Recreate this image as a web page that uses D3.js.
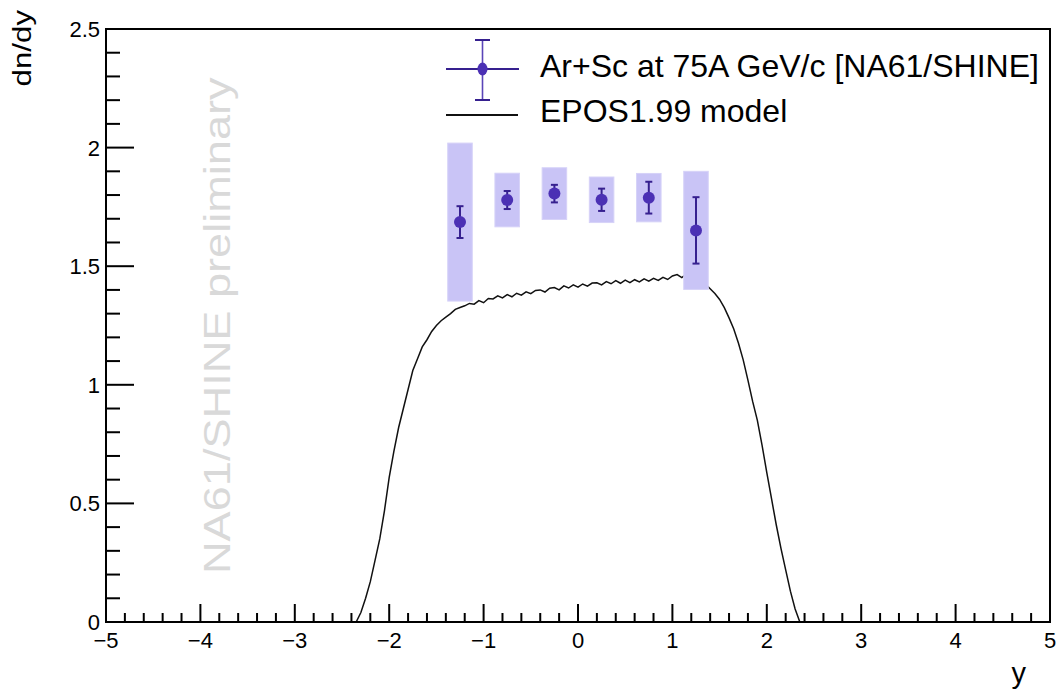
<!DOCTYPE html>
<html>
<head>
<meta charset="utf-8">
<script src="https://cdn.jsdelivr.net/npm/d3@7"></script>
<style>
  html, body { margin: 0; padding: 0; background: #fff; }
  svg { display: block; }
  text { font-family: "Liberation Sans", Arial, Helvetica, sans-serif; }
</style>
</head>
<body>
<svg id="chart" width="1056" height="692"></svg>
<script>
// ---------------- data ----------------
// NA61/SHINE Ar+Sc at 75A GeV/c data points (rapidity bin centres)
const dataY = [-1.25, -0.75, -0.25, 0.25, 0.75, 1.25];
const dataDndy = [1.686, 1.779, 1.806, 1.780, 1.789, 1.651];
const dataStat = [0.067, 0.038, 0.037, 0.047, 0.067, 0.140];
const dataSys = [0.333, 0.113, 0.109, 0.096, 0.102, 0.249];
const sysHalfWidth = 0.13;

// EPOS1.99 model curve
const eposY = [-2.40, -2.35, -2.30, -2.25, -2.20, -2.15, -2.10, -2.05, -2.00, -1.95,
  -1.90, -1.85, -1.80, -1.75, -1.70, -1.65, -1.60, -1.55, -1.50, -1.45,
  -1.40, -1.35, -1.30, -1.25, -1.20, -1.15, -1.10, -1.05, -1.00, -0.95,
  -0.90, -0.85, -0.80, -0.75, -0.70, -0.65, -0.60, -0.55, -0.50, -0.45,
  -0.40, -0.35, -0.30, -0.25, -0.20, -0.15, -0.10, -0.05, 0.00, 0.05,
  0.10, 0.15, 0.20, 0.25, 0.30, 0.35, 0.40, 0.45, 0.50, 0.55,
  0.60, 0.65, 0.70, 0.75, 0.80, 0.85, 0.90, 0.95, 1.00, 1.05,
  1.10, 1.15, 1.20, 1.25, 1.30, 1.35, 1.40, 1.45, 1.50, 1.55,
  1.60, 1.65, 1.70, 1.75, 1.80, 1.85, 1.90, 1.95, 2.00, 2.05,
  2.10, 2.15, 2.20, 2.25, 2.30, 2.35, 2.40];
const eposDndy = [0.0, 0.0, 0.04, 0.10, 0.17, 0.26, 0.35, 0.47, 0.61, 0.72,
  0.82, 0.90, 0.98, 1.06, 1.11, 1.16, 1.19, 1.225, 1.25, 1.27,
  1.285, 1.30, 1.318, 1.326, 1.333, 1.343, 1.340, 1.355, 1.346, 1.364,
  1.362, 1.375, 1.366, 1.380, 1.371, 1.386, 1.378, 1.392, 1.384, 1.398,
  1.400, 1.391, 1.407, 1.410, 1.400, 1.417, 1.408, 1.421, 1.412, 1.425,
  1.416, 1.429, 1.430, 1.421, 1.435, 1.426, 1.439, 1.428, 1.441, 1.431,
  1.443, 1.434, 1.447, 1.437, 1.449, 1.440, 1.453, 1.444, 1.459, 1.465,
  1.452, 1.468, 1.456, 1.450, 1.440, 1.425, 1.405, 1.385, 1.360, 1.325,
  1.282, 1.235, 1.175, 1.105, 1.02, 0.93, 0.85, 0.745, 0.63, 0.52,
  0.41, 0.31, 0.22, 0.13, 0.055, 0.0, 0.0];

// axis ticks
const xMajorTicks = [-5, -4, -3, -2, -1, 0, 1, 2, 3, 4, 5];
const yMajorTicks = [0, 0.5, 1, 1.5, 2, 2.5];

const legendLabels = ["Ar+Sc at 75A GeV/c [NA61/SHINE]", "EPOS1.99 model"];
const xTitle = "y";
const yTitle = "dn/dy";
const watermark = "NA61/SHINE preliminary";

// ---------------- layout ----------------
const svg = d3.select("#chart");
const L = 106, R = 1050, T = 29, B = 622;
const x = d3.scaleLinear().domain([-5, 5]).range([L, R]);
const y = d3.scaleLinear().domain([0, 2.5]).range([B, T]);

const markerColor = "#4b30b4";
const errColor = "#36208f";
const boxColor = "#c9c4f6";

// watermark
svg.append("text")
  .attr("transform", "translate(230,574) rotate(-90) scale(1.22,1)")
  .attr("font-size", 37)
  .attr("fill", "#d9d9d9")
  .text(watermark);

// EPOS curve
const eposPts = eposY.map((v, i) => [v, eposDndy[i]]);
svg.append("path")
  .datum(eposPts)
  .attr("fill", "none")
  .attr("stroke", "#111")
  .attr("stroke-width", 1.5)
  .attr("d", d3.line().x(d => x(d[0])).y(d => y(d[1])));

// systematic boxes
svg.append("g").selectAll("rect")
  .data(dataY)
  .join("rect")
  .attr("x", (d) => x(d - sysHalfWidth))
  .attr("width", (d) => x(d + sysHalfWidth) - x(d - sysHalfWidth))
  .attr("y", (d, i) => y(dataDndy[i] + dataSys[i]))
  .attr("height", (d, i) => y(dataDndy[i] - dataSys[i]) - y(dataDndy[i] + dataSys[i]))
  .attr("fill", boxColor)
  .attr("stroke", "#d6d2f8")
  .attr("stroke-width", 1);

// stat error bars
const eb = svg.append("g").attr("stroke", errColor).attr("stroke-width", 2);
dataY.forEach((d, i) => {
  const cx = x(d), y1 = y(dataDndy[i] + dataStat[i]), y2 = y(dataDndy[i] - dataStat[i]);
  eb.append("line").attr("x1", cx).attr("x2", cx).attr("y1", y1).attr("y2", y2);
  eb.append("line").attr("x1", cx - 3.5).attr("x2", cx + 3.5).attr("y1", y1).attr("y2", y1);
  eb.append("line").attr("x1", cx - 3.5).attr("x2", cx + 3.5).attr("y1", y2).attr("y2", y2);
});

// markers
svg.append("g").selectAll("circle")
  .data(dataY)
  .join("circle")
  .attr("cx", d => x(d))
  .attr("cy", (d, i) => y(dataDndy[i]))
  .attr("r", 6)
  .attr("fill", markerColor);

// ---------------- axes ----------------
const axisG = svg.append("g").attr("stroke", "#000").attr("stroke-width", 2);
// frame
axisG.append("rect")
  .attr("x", L).attr("y", T).attr("width", R - L).attr("height", B - T)
  .attr("fill", "none");

// x axis ticks (minor every 0.2, major every 1)
const xMinor = d3.range(-50, 51, 2).map(v => v / 10);
axisG.selectAll("line.xmin")
  .data(xMinor)
  .join("line")
  .attr("x1", d => x(d)).attr("x2", d => x(d))
  .attr("y1", B).attr("y2", d => xMajorTicks.includes(d) ? B - 18 : B - 9);

// y axis ticks (minor every 0.1, major every 0.5)
const yMinor = d3.range(0, 26, 1).map(v => v / 10);
axisG.selectAll("line.ymin")
  .data(yMinor)
  .join("line")
  .attr("y1", d => y(d)).attr("y2", d => y(d))
  .attr("x1", L).attr("x2", d => yMajorTicks.some(t => Math.abs(t - d) < 1e-9) ? L + 28 : L + 14);

const fmt = d3.format("~g");
svg.append("g").selectAll("text")
  .data(xMajorTicks)
  .join("text")
  .attr("x", d => x(d))
  .attr("y", 648)
  .attr("text-anchor", "middle")
  .attr("font-size", 22)
  .text(d => fmt(d));

svg.append("g").selectAll("text")
  .data(yMajorTicks)
  .join("text")
  .attr("x", 100)
  .attr("y", d => y(d))
  .attr("dy", "0.36em")
  .attr("text-anchor", "end")
  .attr("font-size", 22)
  .text(d => fmt(d));

// axis titles
svg.append("text")
  .attr("x", 1026).attr("y", 683)
  .attr("text-anchor", "end")
  .attr("font-size", 29)
  .text(xTitle);

svg.append("text")
  .attr("transform", "translate(31,10) rotate(-90) scale(1.25,1)")
  .attr("text-anchor", "end")
  .attr("font-size", 25)
  .text(yTitle);

// ---------------- legend ----------------
const lg = svg.append("g");
const lx1 = 446, lx2 = 519, lmx = 482.5, lmy = 69;
lg.append("line").attr("x1", lx1).attr("x2", lx2).attr("y1", lmy).attr("y2", lmy)
  .attr("stroke", errColor).attr("stroke-width", 2);
lg.append("line").attr("x1", lmx).attr("x2", lmx).attr("y1", 40).attr("y2", 100)
  .attr("stroke", "#5a45b8").attr("stroke-width", 1.6);
lg.append("line").attr("x1", lmx - 7.5).attr("x2", lmx + 7.5).attr("y1", 40).attr("y2", 40)
  .attr("stroke", errColor).attr("stroke-width", 2);
lg.append("line").attr("x1", lmx - 7.5).attr("x2", lmx + 7.5).attr("y1", 100).attr("y2", 100)
  .attr("stroke", errColor).attr("stroke-width", 2);
lg.append("ellipse").attr("cx", lmx).attr("cy", lmy).attr("rx", 5).attr("ry", 6.5)
  .attr("fill", markerColor);
lg.append("line").attr("x1", lx1).attr("x2", 518).attr("y1", 115).attr("y2", 115)
  .attr("stroke", "#111").attr("stroke-width", 2);

lg.append("text").attr("x", 540).attr("y", 77).attr("font-size", 32).text(legendLabels[0]);
lg.append("text").attr("x", 540).attr("y", 122).attr("font-size", 32).text(legendLabels[1]);
</script>
</body>
</html>
